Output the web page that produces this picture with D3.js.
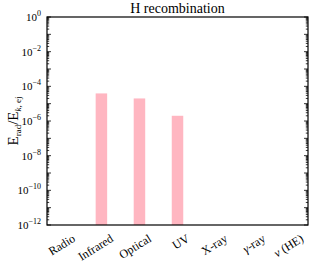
<!DOCTYPE html>
<html>
<head>
<meta charset="utf-8">
<script src="https://cdn.jsdelivr.net/npm/d3@7"></script>
<style>
  body { margin: 0; background: #fff; }
</style>
</head>
<body>
<div id="chart"></div>
<script>
var bands = ["Radio", "Infrared", "Optical", "UV", "X-ray", "\u03b3-ray", "\u03bd (HE)"];
var ratio = [null, 3.9e-5, 2.0e-5, 2.0e-6, null, null, null];
var yTickValues = [1, 1e-2, 1e-4, 1e-6, 1e-8, 1e-10, 1e-12];
var yTickExps = [0, -2, -4, -6, -8, -10, -12];

var width = 312, height = 262,
    margin = {top: 17, right: 4, bottom: 37, left: 47},
    plotW = width - margin.left - margin.right,
    plotH = height - margin.top - margin.bottom;

var svg = d3.select("#chart").append("svg")
    .attr("width", width)
    .attr("height", height)
    .attr("font-family", "'Liberation Serif', 'Times New Roman', serif");

var g = svg.append("g")
    .attr("transform", "translate(" + margin.left + "," + margin.top + ")");

var x = d3.scalePoint()
    .domain(bands)
    .range([0, plotW])
    .padding(0.43);

var y = d3.scaleLog()
    .domain([1e-12, 1])
    .range([plotH, 0]);

var barW = 11.5;

// bars
g.selectAll(".bar")
  .data(bands.map(function(b, i){ return {band: b, v: ratio[i]}; }).filter(function(d){ return d.v != null; }))
  .enter().append("rect")
    .attr("class", "bar")
    .attr("x", function(d){ return x(d.band) - barW / 2; })
    .attr("y", function(d){ return y(d.v); })
    .attr("width", barW)
    .attr("height", function(d){ return plotH - y(d.v); })
    .attr("fill", "#ffb6c1");

// minor ticks, every decade 2..9, both sides
var minor = [], decades = [];
for (var e = -12; e <= 0; e++) {
  decades.push(Math.pow(10, e));
  if (e < 0) for (var k = 2; k <= 9; k++) minor.push(k * Math.pow(10, e));
}

function sideTicks(vals, len){
  g.append("g").selectAll("line").data(vals).enter().append("line")
    .attr("x1", 0).attr("x2", len)
    .attr("y1", function(d){ return y(d); }).attr("y2", function(d){ return y(d); })
    .attr("stroke", "#000").attr("stroke-width", 0.8);
  g.append("g").selectAll("line").data(vals).enter().append("line")
    .attr("x1", plotW).attr("x2", plotW - len)
    .attr("y1", function(d){ return y(d); }).attr("y2", function(d){ return y(d); })
    .attr("stroke", "#000").attr("stroke-width", 0.8);
}
sideTicks(minor, 2.2);
sideTicks(decades, 4);

// frame
g.append("rect")
  .attr("width", plotW).attr("height", plotH)
  .attr("fill", "none").attr("stroke", "#000").attr("stroke-width", 1.2);

// y tick labels
var yl = g.selectAll(".ylab").data(yTickValues).enter().append("text")
  .attr("x", -6)
  .attr("y", function(d){ return y(d) + 4; })
  .attr("text-anchor", "end")
  .style("font-size", "11px");
yl.append("tspan").text("10");
yl.append("tspan")
  .attr("dy", -5)
  .style("font-size", "8px")
  .text(function(d, i){ return yTickExps[i] === 0 ? "0" : "\u2212" + (-yTickExps[i]); });

// x labels (greek letters in italic, like mathtext)
var xl = g.selectAll(".xlab").data(bands).enter().append("text")
  .attr("transform", function(d){ return "translate(" + (x(d) + 8) + "," + (plotH + 8) + ") rotate(-32)"; })
  .attr("text-anchor", "end")
  .attr("dy", "0.75em")
  .style("font-size", "12px");
xl.each(function(d){
  var t = d3.select(this);
  if (/^[\u03b3\u03bd]/.test(d)) {
    t.append("tspan").style("font-style", "italic").text(d.charAt(0));
    t.append("tspan").text(d.slice(1));
  } else {
    t.text(d);
  }
});

// title
svg.append("text")
  .attr("x", margin.left + plotW / 2)
  .attr("y", 13)
  .attr("text-anchor", "middle")
  .style("font-size", "14px")
  .text("H recombination");

// y label
var ylab = svg.append("text")
  .attr("transform", "translate(18," + (margin.top + plotH / 2) + ") rotate(-90)")
  .attr("text-anchor", "middle")
  .style("font-size", "15px");
ylab.append("tspan").text("E");
ylab.append("tspan").attr("dy", 3).style("font-size", "9px").text("rad");
ylab.append("tspan").attr("dy", -3).text("/E");
ylab.append("tspan").attr("dy", 3).style("font-size", "9px").style("font-style", "italic").text("k");
ylab.append("tspan").style("font-size", "9px").text(", ej");
</script>
</body>
</html>
